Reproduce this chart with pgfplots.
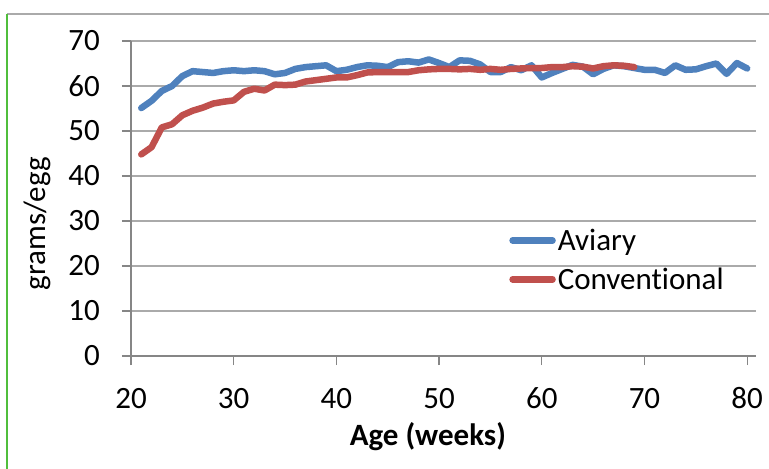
\documentclass[border=0pt]{standalone}
\usepackage{fontspec}
\setmainfont{Carlito}[Ligatures={NoCommon}]
\usepackage{pgfplots}
\pgfplotsset{compat=1.18}
\definecolor{aviary}{HTML}{4F81BD}
\definecolor{conv}{HTML}{C0504D}
\definecolor{gridc}{RGB}{170,170,170}
\definecolor{axc}{RGB}{134,134,134}
\definecolor{framegreen}{RGB}{80,190,60}
\newcommand\cf{\fontsize{31bp}{36bp}\selectfont}
\begin{document}
\begin{tikzpicture}
\path[use as bounding box] (-131bp,-113bp) rectangle (638bp,356bp);
\draw[gridc, line width=1.5bp] (-124bp,342bp) -- (640bp,342bp);
\draw[framegreen, line width=1.5bp] (-124bp,342bp) -- (-124bp,-115bp);
\begin{axis}[
  at={(0,0)}, anchor=south west,
  scale only axis, width=625bp, height=315bp,
  xmin=20, xmax=80.86, ymin=0, ymax=70,
  xtick={20,30,...,80}, ytick={0,10,...,70},
  axis lines*=left,
  axis line style={axc, line width=1.2bp},
  tick style={axc, line width=1.2bp},
  tick align=outside, major tick length=9bp,
  ymajorgrids, grid style={gridc, line width=1.5bp},
  /pgf/number format/assume math mode=true,
  tick label style={font=\cf},
  xticklabel style={anchor=base, yshift=-43bp},
  yticklabel style={anchor=east, xshift=-22bp, inner sep=0pt},
  xlabel={\textbf{Age (weeks)}},
  ylabel={grams/egg},
  label style={font=\cf},
  xlabel style={at={(axis description cs:0.475,-0.257)}, anchor=center},
  ylabel style={at={(axis description cs:-0.149,0.42)}, anchor=center, rotate=0},
  legend style={draw=none, fill=none, at={(axis description cs:0.605,0.41)}, anchor=north west, font=\cf, inner sep=0pt, row sep=12bp},
  legend cell align=left,
  legend image code/.code={\draw[#1, line width=6.5bp, line cap=round] (0bp,0bp) -- (40bp,0bp);},
  every axis plot/.append style={line width=6.5bp, line join=round, line cap=round},
]
\addplot[aviary] coordinates {
(21,55.1)(22,56.7)(23,58.9)(24,60.0)(25,62.2)(26,63.3)(27,63.1)(28,62.9)(29,63.3)(30,63.5)
(31,63.3)(32,63.5)(33,63.3)(34,62.6)(35,62.9)(36,63.8)(37,64.2)(38,64.4)(39,64.6)(40,63.3)
(41,63.6)(42,64.2)(43,64.6)(44,64.5)(45,64.2)(46,65.3)(47,65.5)(48,65.2)(49,65.9)(50,65.1)
(51,64.2)(52,65.7)(53,65.6)(54,64.8)(55,63.1)(56,63.1)(57,64.2)(58,63.5)(59,64.6)(60,61.9)
(61,62.9)(62,63.8)(63,64.7)(64,64.3)(65,62.6)(66,63.8)(67,64.6)(68,64.4)(69,64.0)(70,63.6)
(71,63.6)(72,62.9)(73,64.6)(74,63.6)(75,63.7)(76,64.4)(77,65.0)(78,62.7)(79,65.1)(80,63.9)
};
\addlegendentry{Aviary}
\addplot[conv] coordinates {
(21,44.8)(22,46.4)(23,50.8)(24,51.5)(25,53.5)(26,54.5)(27,55.2)(28,56.1)(29,56.5)(30,56.8)
(31,58.7)(32,59.4)(33,59.0)(34,60.3)(35,60.2)(36,60.3)(37,61.0)(38,61.3)(39,61.6)(40,61.9)
(41,61.9)(42,62.4)(43,63.0)(44,63.1)(45,63.1)(46,63.1)(47,63.1)(48,63.5)(49,63.7)(50,63.8)
(51,63.8)(52,63.7)(53,63.8)(54,63.6)(55,63.8)(56,63.6)(57,63.8)(58,63.9)(59,64.0)(60,64.0)
(61,64.2)(62,64.2)(63,64.4)(64,64.3)(65,63.9)(66,64.4)(67,64.6)(68,64.5)(69,64.2)
};
\addlegendentry{Conventional}
\end{axis}
\end{tikzpicture}
\end{document}
